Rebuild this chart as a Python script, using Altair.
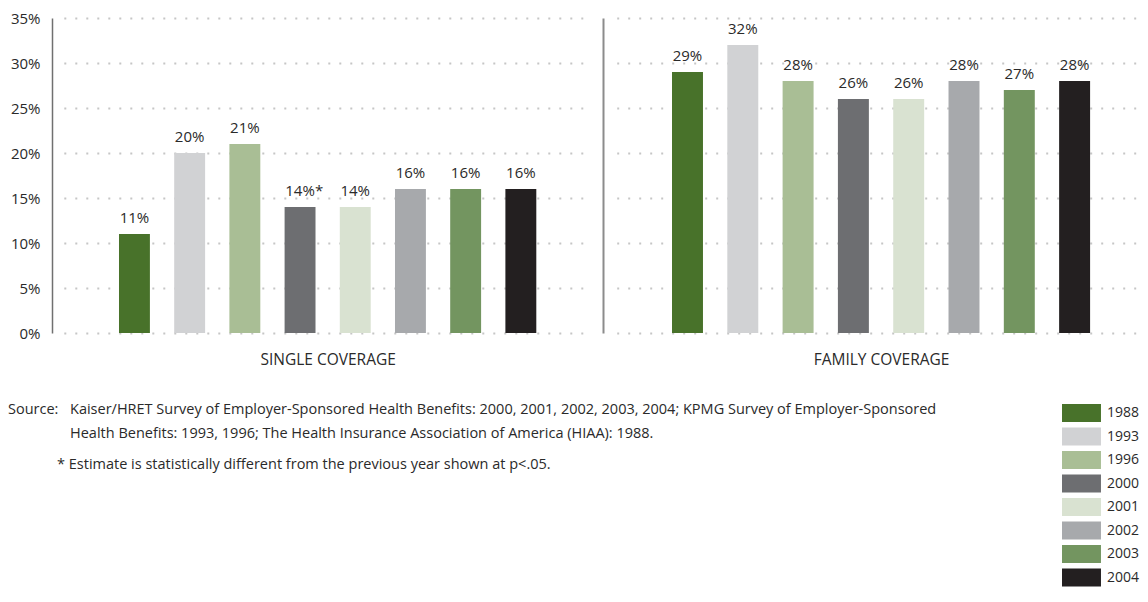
import altair as alt
import pandas as pd

years = ["1988", "1993", "1996", "2000", "2001", "2002", "2003", "2004"]
colors = ["#48722a", "#d1d2d4", "#a9be95", "#6d6e71", "#d9e2d1", "#a7a9ac", "#739560", "#231f20"]

single_values = [11, 20, 21, 14, 14, 16, 16, 16]
single_labels = ["11%", "20%", "21%", "14%", "14%", "16%", "16%", "16%"]
single_stars = ["", "", "", "*", "", "", "", ""]

family_values = [29, 32, 28, 26, 26, 28, 27, 28]
family_labels = ["29%", "32%", "28%", "26%", "26%", "28%", "27%", "28%"]
family_stars = ["", "", "", "", "", "", "", ""]

panel_titles = ["SINGLE COVERAGE", "FAMILY COVERAGE"]
y_ticks = [0, 5, 10, 15, 20, 25, 30, 35]

source_label = ["Source:"]
source_line1 = ["Kaiser/HRET Survey of Employer-Sponsored Health Benefits: 2000, 2001, 2002, 2003, 2004; KPMG Survey of Employer-Sponsored"]
source_line2 = ["Health Benefits: 1993, 1996; The Health Insurance Association of America (HIAA): 1988."]
footnote = ["* Estimate is statistically different from the previous year shown at p<.05."]

FONT = "Open Sans"
TXT = "#2a2a2a"

legend = alt.Legend(
    orient="none", legendX=1010, legendY=386, title=None,
    symbolType="M-1,-1H3.33V1H-1Z", symbolSize=324,
    symbolStrokeWidth=0, symbolOpacity=1,
    labelFont=FONT, labelFontSize=14, labelColor=TXT, labelOffset=27,
    rowPadding=5.5, values=years,
)


def panel(values, labels, stars, title, width, xrange, left):
    df = pd.DataFrame({"year": years, "value": values, "label": labels, "star": stars})
    x = alt.X(
        "year:N", sort=years,
        scale=alt.Scale(paddingInner=0.44, paddingOuter=1, range=xrange, round=False),
        axis=alt.Axis(title=title, labels=False, ticks=False, domain=False,
                      titlePadding=19, titleFont=FONT, titleFontSize=15.5,
                      titleFontWeight="normal", titleColor=TXT),
    )
    if left:
        yaxis = alt.Axis(values=y_ticks, labelExpr="datum.value + '%'", title=None,
                         ticks=False, labelPadding=12, labelFont=FONT, labelFontSize=15,
                         labelColor=TXT, domainColor="#707070", domainWidth=1.5,
                         grid=True, gridColor="#c6c6c6", gridDash=[2, 9], gridWidth=2)
    else:
        yaxis = alt.Axis(values=y_ticks, labels=False, title=None, ticks=False,
                         domainColor="#8c8c8c", domainWidth=2,
                         grid=True, gridColor="#c6c6c6", gridDash=[2, 9], gridWidth=2)
    y = alt.Y("value:Q", scale=alt.Scale(domain=[0, 35], nice=False), axis=yaxis)
    base = alt.Chart(df)
    bars = base.mark_bar().encode(
        x=x, y=y,
        color=alt.Color("year:N", sort=years, scale=alt.Scale(domain=years, range=colors), legend=legend),
    )
    text = base.mark_text(baseline="alphabetic", dy=-11, font=FONT, fontSize=15, color=TXT).encode(
        x=alt.X("year:N", sort=years), y="value:Q", text="label:N")
    star = base.mark_text(baseline="alphabetic", align="left", dx=15, dy=-11, font=FONT,
                          fontSize=15, color=TXT).encode(
        x=alt.X("year:N", sort=years), y="value:Q", text="star:N")
    layers = [bars, text, star]
    if left:
        def note(lines, px, py):
            return alt.Chart(pd.DataFrame({"t": lines})).mark_text(
                align="left", baseline="middle", font=FONT, fontSize=14.5, color=TXT
            ).encode(text="t:N", x=alt.value(px), y=alt.value(py))
        layers += [
            note(source_label, -44, 392),
            note(source_line1, 18, 392),
            note(source_line2, 18, 416),
            note(footnote, 5, 447),
        ]
    return alt.layer(*layers).properties(width=width, height=315)


left_chart = panel(single_values, single_labels, single_stars, panel_titles[0], 551, [11.8, 539.5], True)
right_chart = panel(family_values, family_labels, family_stars, panel_titles[1], 537, [13.7, 542.4], False)

chart = alt.hconcat(left_chart, right_chart, spacing=0, bounds="flush").properties(
    padding={"top": 3, "left": 0, "right": 0, "bottom": 0}
).configure_view(stroke=None).configure_concat(spacing=0)

chart.save("out.html", embed_options={"renderer": "svg", "actions": False})
